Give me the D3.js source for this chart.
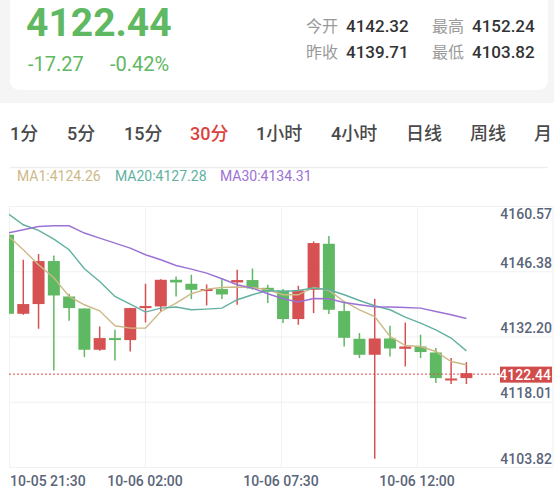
<!DOCTYPE html>
<html>
<head>
<meta charset="utf-8">
<script src="https://cdn.jsdelivr.net/npm/d3@7/dist/d3.min.js"></script>
<style>
  html, body { margin: 0; padding: 0; background: #f5f5f5; }
  svg { display: block; }
  text { font-family: Roboto, "Noto Sans CJK SC", sans-serif; }
</style>
</head>
<body>
<div id="chart"></div>
<script>
// header quote
const lastPrice = 4122.44;
const change = "-17.27", changePct = "-0.42%";
const statLabels = ["今开", "最高", "昨收", "最低"];
const statValues = ["4142.32", "4152.24", "4139.71", "4103.82"];

// period tabs
const periods = ["1分", "5分", "15分", "30分", "1小时", "4小时", "日线", "周线", "月"];
const activePeriod = "30分";

// 30 minute candles
const opens  = [4152.52, 4135.34, 4137.45, 4146.80, 4139.10, 4136.49, 4127.52, 4130.06, 4129.62, 4136.58,
                4136.93, 4142.73, 4141.86, 4140.41, 4140.71, 4142.15, 4142.67, 4140.99, 4140.41, 4134.19,
                4140.56, 4150.56, 4135.93, 4129.91, 4126.43, 4129.97, 4127.73, 4128.23, 4126.93, 4120.84, 4121.36];
const highs  = [4152.80, 4147.08, 4148.32, 4148.02, 4139.69, 4136.49, 4132.58, 4131.86, 4136.65, 4141.86,
                4142.84, 4143.45, 4143.82, 4141.71, 4142.89, 4144.91, 4145.19, 4141.65, 4140.71, 4141.43,
                4151.06, 4152.24, 4137.67, 4131.15, 4138.60, 4132.73, 4133.45, 4130.78, 4127.89, 4125.71, 4124.84];
const lows   = [4135.00, 4135.12, 4132.08, 4123.02, 4133.82, 4125.93, 4127.30, 4125.19, 4127.15, 4133.45,
                4135.71, 4139.10, 4138.54, 4137.15, 4138.54, 4137.30, 4140.56, 4137.67, 4133.32, 4132.95,
                4135.49, 4135.28, 4128.23, 4125.71, 4103.82, 4126.06, 4123.89, 4125.71, 4120.28, 4120.06, 4120.06];
const closes = [4135.34, 4137.45, 4146.80, 4139.32, 4136.58, 4127.52, 4130.06, 4129.69, 4136.58, 4137.02,
                4142.73, 4142.15, 4140.56, 4140.71, 4139.54, 4142.67, 4140.84, 4140.12, 4134.19, 4140.41,
                4150.71, 4136.21, 4130.12, 4126.43, 4129.97, 4127.80, 4128.23, 4127.02, 4121.36, 4121.28, 4122.44];

// moving averages
const ma1  = [4152.30, 4149.25, 4145.99, 4143.17, 4139.10, 4137.30, 4135.99, 4132.73, 4132.23, 4132.23,
              4135.84, 4137.67, 4139.69, 4140.71, 4141.06, 4141.15, 4141.06, 4140.56, 4139.47, 4139.47,
              4141.06, 4140.41, 4138.02, 4136.21, 4134.75, 4130.41, 4128.45, 4128.23, 4127.15, 4124.97, 4124.26];
const ma20 = [4157.08, 4154.69, 4153.45, 4151.58, 4149.25, 4145.12, 4142.36, 4139.10, 4137.45, 4135.71,
              4136.58, 4136.80, 4136.21, 4136.36, 4136.58, 4138.39, 4139.47, 4140.41, 4140.19, 4140.41,
              4140.93, 4140.56, 4139.47, 4138.23, 4137.08, 4136.21, 4134.62, 4133.32, 4131.86, 4130.06, 4127.28];
const ma30 = [4152.89, 4153.60, 4154.32, 4154.47, 4154.47, 4152.89, 4151.80, 4150.71, 4149.62, 4148.17,
              4147.08, 4145.84, 4145.06, 4144.19, 4142.95, 4141.65, 4140.93, 4139.69, 4138.60, 4137.89,
              4138.67, 4138.60, 4137.80, 4137.30, 4136.86, 4136.80, 4136.71, 4136.58, 4135.84, 4135.12, 4134.31];

const maNames = ["MA1", "MA20", "MA30"];
const yTicks = [4160.57, 4146.38, 4132.20, 4118.01, 4103.82];
const xTickLabels = ["10-05 21:30", "10-06 02:00", "10-06 07:30", "10-06 12:00"];

const W = 554, H = 492,
      upColor = "#d65252", downColor = "#5fb862",
      maColors = ["#cdb988", "#62b1a0", "#9b72d4"],
      axisColor = "#5a6579", gridColor = "#f1f1f1",
      plot = {left: 9, right: 553, top: 206, bottom: 467};

const svg = d3.select("#chart").append("svg")
    .attr("width", W).attr("height", H);

// backgrounds
svg.append("rect").attr("width", W).attr("height", H).attr("fill", "#f5f5f5");
svg.append("rect").attr("x", 0).attr("y", 103).attr("width", W).attr("height", H - 103).attr("fill", "#fff");
svg.append("rect").attr("x", 10).attr("y", -12).attr("width", 538).attr("height", 102)
    .attr("rx", 9).attr("fill", "#fff");

// quote header
svg.append("text").attr("x", 26).attr("y", 36)
    .attr("font-size", 39).attr("font-weight", 700).attr("fill", downColor)
    .text(lastPrice.toFixed(2));
svg.append("text").attr("x", 28).attr("y", 71).attr("font-size", 20).attr("fill", downColor).text(change);
svg.append("text").attr("x", 110).attr("y", 71).attr("font-size", 20).attr("fill", downColor).text(changePct);

statLabels.forEach((lab, i) => {
    let col = i % 2, row = Math.floor(i / 2);
    let x0 = 306 + col * 126, yy = 32 + row * 26;
    svg.append("text").attr("x", x0).attr("y", yy).attr("font-size", 16).attr("fill", "#9a9a9a").text(lab);
    svg.append("text").attr("x", x0 + 40).attr("y", yy).attr("font-size", 17).attr("font-weight", 500)
        .attr("fill", "#333").text(statValues[i]);
});

// period tabs
const tabX = [10, 67, 124, 190, 256, 331, 406, 470, 534];
periods.forEach((p, i) => {
    svg.append("text").attr("x", tabX[i]).attr("y", 140)
        .attr("font-size", 18).attr("font-weight", 500)
        .attr("fill", p === activePeriod ? "#dc4240" : "#4a4a4a")
        .text(p);
});
svg.append("line").attr("x1", 10).attr("x2", 548).attr("y1", 167.5).attr("y2", 167.5)
    .attr("stroke", "#eeeeee").attr("stroke-width", 1.5);

// MA legend
const maLast = [ma1[ma1.length - 1], ma20[ma20.length - 1], ma30[ma30.length - 1]];
const legendX = [17, 115, 220];
maNames.forEach((n, i) => {
    svg.append("text").attr("x", legendX[i]).attr("y", 181)
        .attr("font-size", 14).attr("fill", maColors[i])
        .text(n + ":" + maLast[i].toFixed(2));
});

// scales
const x = d3.scaleLinear().domain([0, 30]).range([8, 466.4]);
const y = d3.scaleLinear().domain([4103.82, 4160.57]).range([458.8, 197.7]);
const gridY = d3.scalePoint().domain(yTicks).range([plot.top, plot.bottom]);
const gridX = d3.scalePoint().domain(xTickLabels).range([plot.left, 417]);

// grid
svg.append("g").selectAll("line").data(yTicks).enter().append("line")
    .attr("x1", plot.left).attr("x2", plot.right)
    .attr("y1", d => gridY(d) + 0.5).attr("y2", d => gridY(d) + 0.5)
    .attr("stroke", gridColor);
svg.append("g").selectAll("line").data(xTickLabels.concat(["end"])).enter().append("line")
    .attr("x1", d => d === "end" ? plot.right : gridX(d) + 0.5)
    .attr("x2", d => d === "end" ? plot.right : gridX(d) + 0.5)
    .attr("y1", plot.top).attr("y2", plot.bottom)
    .attr("stroke", gridColor);

// clip
svg.append("clipPath").attr("id", "plotClip").append("rect")
    .attr("x", plot.left).attr("y", plot.top - 20)
    .attr("width", plot.right - plot.left).attr("height", plot.bottom - plot.top + 20);

const candles = opens.map((o, i) => ({i: i, o: o, h: highs[i], l: lows[i], c: closes[i]}));
const cg = svg.append("g").attr("clip-path", "url(#plotClip)");

cg.selectAll(".wick").data(candles).enter().append("line")
    .attr("class", "wick")
    .attr("x1", d => x(d.i)).attr("x2", d => x(d.i))
    .attr("y1", d => y(d.h)).attr("y2", d => y(d.l))
    .attr("stroke", d => d.c >= d.o ? upColor : downColor)
    .attr("stroke-width", 1.5);

cg.selectAll(".body").data(candles).enter().append("rect")
    .attr("class", "body")
    .attr("x", d => x(d.i) - 6).attr("width", 12)
    .attr("y", d => y(Math.max(d.o, d.c)))
    .attr("height", d => Math.max(2, Math.abs(y(d.o) - y(d.c))))
    .attr("fill", d => d.c >= d.o ? upColor : downColor);

// MA lines
const line = d3.line().x((d, i) => x(i)).y(d => y(d));
[ma1, ma20, ma30].forEach((series, k) => {
    cg.append("path").attr("d", line(series))
        .attr("fill", "none").attr("stroke", maColors[k]).attr("stroke-width", 1.4);
});

// last price line
svg.append("line").attr("x1", plot.left).attr("x2", 500)
    .attr("y1", y(lastPrice) + 1).attr("y2", y(lastPrice) + 1)
    .attr("stroke", "#e04848").attr("stroke-width", 1).attr("stroke-dasharray", "2,2");

// y axis labels
svg.append("g").selectAll("text").data(yTicks).enter().append("text")
    .attr("x", 552)
    .attr("y", d => Math.max(y(d), 214))
    .attr("dy", "0.35em")
    .attr("text-anchor", "end")
    .attr("font-size", 14).attr("font-weight", 500).attr("fill", axisColor)
    .text(d => d.toFixed(2));

// last price tag
svg.append("rect").attr("x", 500).attr("y", y(lastPrice) - 6.5).attr("width", 52).attr("height", 16)
    .attr("fill", "#d24b4b");
svg.append("text").attr("x", 551).attr("y", y(lastPrice) + 1.5).attr("dy", "0.35em")
    .attr("text-anchor", "end").attr("font-size", 14).attr("font-weight", 500).attr("fill", "#fff")
    .text(lastPrice.toFixed(2));

// x axis labels
svg.append("g").selectAll("text").data(xTickLabels).enter().append("text")
    .attr("x", (d, i) => i === 0 ? plot.left + 1 : gridX(d))
    .attr("y", 486)
    .attr("text-anchor", (d, i) => i === 0 ? "start" : "middle")
    .attr("font-size", 14).attr("font-weight", 500).attr("fill", axisColor)
    .text(d => d);
</script>
</body>
</html>
